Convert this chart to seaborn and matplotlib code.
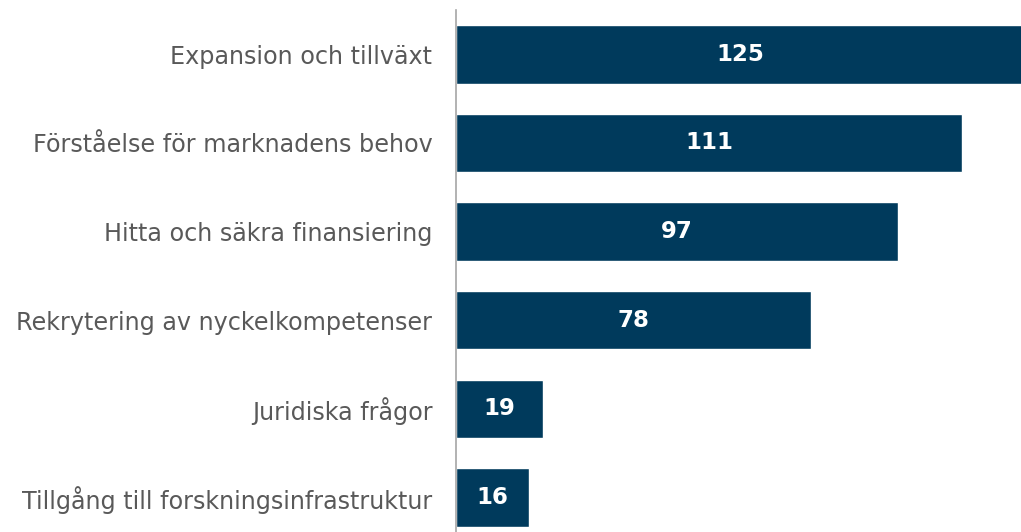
import matplotlib
matplotlib.use("Agg")
import matplotlib.pyplot as plt
import seaborn as sns
import pandas as pd

categories = [
    "Expansion och tillväxt",
    "Förståelse för marknadens behov",
    "Hitta och säkra finansiering",
    "Rekrytering av nyckelkompetenser",
    "Juridiska frågor",
    "Tillgång till forskningsinfrastruktur",
]
values = [125, 111, 97, 78, 19, 16]

bar_color = "#003a5c"
text_color = "#595959"

df = pd.DataFrame({"category": categories, "value": values})

sns.set_theme(style="white")
plt.rcParams["font.family"] = ["DejaVu Sans"]

fig = plt.figure(figsize=(10.21, 5.32), dpi=100)
ax = fig.add_axes([456 / 1021, 0.0, 1 - 456 / 1021, 522 / 532])

sns.barplot(data=df, x="value", y="category", color=bar_color, saturation=1,
            width=0.66, ax=ax)

for i, v in enumerate(values):
    ax.text(v / 2, i, str(v), ha="center", va="center", color="white",
            fontsize=16.5, fontweight="bold")

# longest bar runs off the right edge in the original
ax.set_xlim(0, 124)
ax.set_ylim(5.39, -0.5)
ax.set_xlabel("")
ax.set_ylabel("")
ax.set_xticks([])
ax.tick_params(axis="y", length=0, pad=17, labelsize=17.2, labelcolor=text_color)
for side in ["top", "right", "bottom"]:
    ax.spines[side].set_visible(False)
ax.spines["left"].set_color("#a6a6a6")
ax.spines["left"].set_linewidth(1.2)

fig.savefig("out.png", dpi=100)
